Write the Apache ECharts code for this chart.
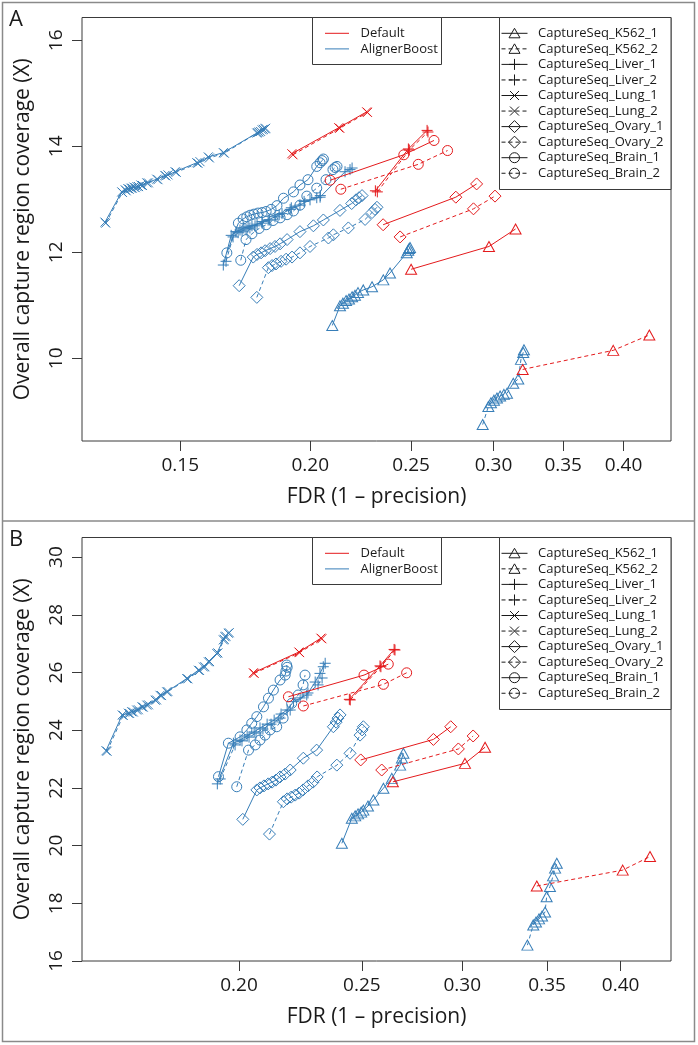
<!DOCTYPE html>
<html><head><meta charset="utf-8">
<script src="https://cdn.jsdelivr.net/npm/echarts@6/dist/echarts.min.js"></script>
<style>html,body{margin:0;padding:0;background:#fff}#c{width:698px;height:1045px}</style>
</head><body><div id="c"></div>
<script>
// ---------------- categories / ticks ----------------
const sampleNames = ['CaptureSeq_K562_1','CaptureSeq_K562_2','CaptureSeq_Liver_1','CaptureSeq_Liver_2','CaptureSeq_Lung_1','CaptureSeq_Lung_2','CaptureSeq_Ovary_1','CaptureSeq_Ovary_2','CaptureSeq_Brain_1','CaptureSeq_Brain_2'];
const sampleMarker = ['triangle','triangle','plus','plus','cross','cross','diamond','diamond','circle','circle'];
const methodNames = ['Default','AlignerBoost'];
const xTicksA = [0.15,0.20,0.25,0.30,0.35,0.40];
const xTicksB = [0.20,0.25,0.30,0.35,0.40];
const yTicksA = [10,12,14,16];
const yTicksB = [16,18,20,22,24,26,28,30];
const xRangeA = [0.1207,0.4443];
const xRangeB = [0.1504,0.4383];
const yRangeA = [8.44,16.43];
const yRangeB = [16.0,30.68];

// ---------------- Panel A: Default  [FDR, coverage] ----------------
const A_default_K562_1 = [[0.250,11.68],[0.297,12.11],[0.315,12.44]];
const A_default_K562_2 = [[0.320,9.79],[0.391,10.15],[0.4235,10.44]];
const A_default_Liver_1 = [[0.231,13.16],[0.2485,13.95],[0.259,14.30]];
const A_default_Liver_2 = [[0.232,13.14],[0.249,13.93],[0.2595,14.27]];
const A_default_Lung_1 = [[0.192,13.86],[0.213,14.35],[0.2266,14.65]];
const A_default_Lung_2 = [[0.1925,13.84],[0.2135,14.34],[0.227,14.64]];
const A_default_Ovary_1 = [[0.235,12.52],[0.276,13.04],[0.289,13.29]];
const A_default_Ovary_2 = [[0.244,12.29],[0.287,12.82],[0.301,13.06]];
const A_default_Brain_1 = [[0.209,13.36],[0.246,13.84],[0.263,14.11]];
const A_default_Brain_2 = [[0.214,13.19],[0.254,13.66],[0.271,13.92]];

// ---------------- Panel A: AlignerBoost ----------------
const A_boost_K562_1 = [[0.2100,10.62],[0.2136,10.99],[0.2150,11.04],[0.2165,11.09],[0.2179,11.12],[0.2194,11.16],[0.2208,11.19],[0.2223,11.24],[0.2249,11.29],[0.2293,11.35],[0.2351,11.48],[0.2386,11.61],[0.2476,11.99],[0.2484,12.04],[0.2489,12.07],[0.2494,12.09]];
const A_boost_K562_2 = [[0.2929,8.75],[0.2966,9.09],[0.2983,9.16],[0.3003,9.21],[0.3023,9.25],[0.3044,9.29],[0.3070,9.32],[0.3091,9.34],[0.3134,9.53],[0.3169,9.61],[0.3188,9.98],[0.3204,10.11],[0.3209,10.16]];
const A_boost_Liver_1 = [[0.1650,11.76],[0.1679,12.32],[0.1697,12.39],[0.1712,12.42],[0.1727,12.46],[0.1743,12.48],[0.1758,12.50],[0.1778,12.53],[0.1798,12.58],[0.1822,12.61],[0.1850,12.67],[0.1879,12.73],[0.1913,12.81],[0.1955,12.89],[0.1999,12.99],[0.2044,13.04],[0.2160,13.52],[0.2184,13.56],[0.2194,13.59]];
const A_boost_Liver_2 = [[0.1660,11.83],[0.1686,12.29],[0.1705,12.37],[0.1720,12.40],[0.1735,12.44],[0.1750,12.46],[0.1770,12.50],[0.1798,12.55],[0.1827,12.61],[0.1867,12.71],[0.1918,12.84],[0.1973,12.96],[0.2029,13.03],[0.2045,13.07]];
const A_boost_Lung_1 = [[0.1270,12.57],[0.1318,13.14],[0.1328,13.18],[0.1336,13.20],[0.1345,13.21],[0.1354,13.23],[0.1363,13.24],[0.1375,13.27],[0.1393,13.31],[0.1424,13.38],[0.1450,13.45],[0.1460,13.46],[0.1483,13.52],[0.1556,13.69],[0.1567,13.71],[0.1596,13.80],[0.1650,13.88],[0.1777,14.25],[0.1786,14.27],[0.1798,14.31],[0.1810,14.33]];
const A_boost_Lung_2 = [[0.1272,12.55],[0.1320,13.13],[0.1331,13.16],[0.1340,13.19],[0.1349,13.21],[0.1358,13.22],[0.1368,13.24],[0.1380,13.26],[0.1398,13.31],[0.1428,13.37],[0.1453,13.44],[0.1487,13.51],[0.1560,13.68],[0.1600,13.78],[0.1654,13.87],[0.1781,14.26],[0.1792,14.28],[0.1803,14.32],[0.1812,14.34]];
const A_boost_Ovary_1 = [[0.1709,11.37],[0.1763,11.91],[0.1778,11.96],[0.1794,11.99],[0.1810,12.03],[0.1830,12.07],[0.1850,12.11],[0.1871,12.16],[0.1900,12.24],[0.1955,12.39],[0.2014,12.50],[0.2059,12.61],[0.2136,12.79],[0.2192,12.92],[0.2213,12.99],[0.2228,13.03],[0.2243,13.07]];
const A_boost_Ovary_2 = [[0.1777,11.15],[0.1823,11.71],[0.1838,11.75],[0.1854,11.78],[0.1875,11.83],[0.1896,11.87],[0.1921,11.91],[0.1955,11.99],[0.1999,12.11],[0.2082,12.27],[0.2105,12.33],[0.2176,12.46],[0.2258,12.62],[0.2293,12.75],[0.2308,12.81],[0.2318,12.85]];
const A_boost_Brain_1 = [[0.1663,11.99],[0.1706,12.55],[0.1724,12.63],[0.1738,12.67],[0.1751,12.70],[0.1766,12.72],[0.1782,12.74],[0.1798,12.75],[0.1814,12.77],[0.1834,12.81],[0.1858,12.88],[0.1885,13.02],[0.1927,13.14],[0.1955,13.27],[0.1990,13.37],[0.2029,13.62],[0.2044,13.69],[0.2053,13.73],[0.2059,13.76]];
const A_boost_Brain_2 = [[0.1715,11.85],[0.1735,12.24],[0.1758,12.35],[0.1786,12.45],[0.1814,12.52],[0.1842,12.60],[0.1871,12.65],[0.1900,12.71],[0.1927,12.78],[0.1955,12.89],[0.1985,13.06],[0.2029,13.21],[0.2071,13.37],[0.2103,13.56],[0.2113,13.60],[0.2122,13.62]];

// ---------------- Panel B: Default ----------------
const B_default_K562_1 = [[0.2645,22.21],[0.3015,22.85],[0.3127,23.41]];
const B_default_K562_2 = [[0.3435,18.60],[0.4015,19.15],[0.4219,19.62]];
const B_default_Liver_1 = [[0.2444,25.07],[0.2584,26.23],[0.2651,26.80]];
const B_default_Liver_2 = [[0.2448,25.05],[0.2588,26.20],[0.2655,26.78]];
const B_default_Lung_1 = [[0.2053,25.99],[0.2230,26.71],[0.2321,27.19]];
const B_default_Lung_2 = [[0.2056,25.97],[0.2233,26.69],[0.2325,27.17]];
const B_default_Ovary_1 = [[0.2495,22.97],[0.2847,23.68],[0.2938,24.12]];
const B_default_Ovary_2 = [[0.2592,22.62],[0.2979,23.35],[0.3060,23.80]];
const B_default_Brain_1 = [[0.2188,25.16],[0.2510,25.91],[0.2623,26.29]];
const B_default_Brain_2 = [[0.2248,24.84],[0.2600,25.59],[0.2712,25.99]];

// ---------------- Panel B: AlignerBoost ----------------
const B_boost_K562_1 = [[0.2411,20.08],[0.2455,20.95],[0.2470,21.03],[0.2483,21.10],[0.2497,21.16],[0.2507,21.23],[0.2528,21.37],[0.2553,21.58],[0.2600,21.99],[0.2640,22.33],[0.2680,22.79],[0.2689,23.04],[0.2696,23.20]];
const B_boost_K562_2 = [[0.3377,16.55],[0.3413,17.25],[0.3430,17.35],[0.3449,17.46],[0.3468,17.56],[0.3487,17.70],[0.3497,18.23],[0.3518,18.58],[0.3538,18.95],[0.3551,19.22],[0.3562,19.39]];
const B_boost_Liver_1 = [[0.1923,22.14],[0.1980,23.55],[0.2004,23.66],[0.2030,23.80],[0.2056,23.94],[0.2078,24.08],[0.2105,24.21],[0.2132,24.35],[0.2159,24.56],[0.2183,24.70],[0.2208,24.99],[0.2262,25.22],[0.2297,25.67],[0.2317,25.97],[0.2331,26.20],[0.2339,26.32]];
const B_boost_Liver_2 = [[0.1933,22.31],[0.1986,23.49],[0.2011,23.63],[0.2037,23.76],[0.2063,23.90],[0.2089,24.04],[0.2120,24.21],[0.2155,24.42],[0.2195,24.70],[0.2235,25.12],[0.2267,25.29],[0.2309,25.57],[0.2326,25.81]];
const B_boost_Lung_1 = [[0.1571,23.29],[0.1618,24.53],[0.1636,24.59],[0.1646,24.64],[0.1661,24.70],[0.1677,24.81],[0.1692,24.87],[0.1718,25.04],[0.1733,25.21],[0.1754,25.33],[0.1819,25.79],[0.1858,26.08],[0.1875,26.19],[0.1892,26.37],[0.1921,26.66],[0.1944,27.13],[0.1950,27.24],[0.1962,27.36]];
const B_boost_Lung_2 = [[0.1574,23.27],[0.1621,24.51],[0.1640,24.58],[0.1651,24.63],[0.1666,24.71],[0.1681,24.80],[0.1697,24.88],[0.1722,25.05],[0.1738,25.20],[0.1758,25.34],[0.1823,25.78],[0.1862,26.07],[0.1880,26.20],[0.1896,26.38],[0.1925,26.68],[0.1947,27.15],[0.1953,27.26],[0.1965,27.38]];
const B_boost_Ovary_1 = [[0.2014,20.91],[0.2066,21.93],[0.2078,22.00],[0.2093,22.07],[0.2109,22.14],[0.2124,22.20],[0.2139,22.27],[0.2155,22.38],[0.2175,22.48],[0.2195,22.62],[0.2248,23.03],[0.2303,23.31],[0.2374,24.12],[0.2386,24.28],[0.2394,24.42],[0.2403,24.53]];
const B_boost_Ovary_2 = [[0.2114,20.40],[0.2168,21.52],[0.2183,21.62],[0.2199,21.68],[0.2215,21.75],[0.2231,21.82],[0.2247,21.93],[0.2267,22.07],[0.2288,22.20],[0.2305,22.38],[0.2389,22.79],[0.2447,23.20],[0.2492,23.83],[0.2501,24.01],[0.2507,24.12]];
const B_boost_Brain_1 = [[0.1927,22.39],[0.1962,23.55],[0.2004,23.77],[0.2029,24.01],[0.2047,24.24],[0.2066,24.47],[0.2091,24.81],[0.2110,25.11],[0.2129,25.39],[0.2155,25.74],[0.2175,25.91],[0.2178,26.05],[0.2183,26.18],[0.2181,26.26]];
const B_boost_Brain_2 = [[0.1992,22.04],[0.2035,23.31],[0.2060,23.49],[0.2078,23.66],[0.2097,23.83],[0.2116,24.01],[0.2142,24.12],[0.2167,24.42],[0.2201,24.93],[0.2227,25.22],[0.2247,25.57],[0.2255,25.91]];

// ---------------- assembly ----------------
const panelA_default = [A_default_K562_1,A_default_K562_2,A_default_Liver_1,A_default_Liver_2,A_default_Lung_1,A_default_Lung_2,A_default_Ovary_1,A_default_Ovary_2,A_default_Brain_1,A_default_Brain_2];
const panelA_boost = [A_boost_K562_1,A_boost_K562_2,A_boost_Liver_1,A_boost_Liver_2,A_boost_Lung_1,A_boost_Lung_2,A_boost_Ovary_1,A_boost_Ovary_2,A_boost_Brain_1,A_boost_Brain_2];
const panelB_default = [B_default_K562_1,B_default_K562_2,B_default_Liver_1,B_default_Liver_2,B_default_Lung_1,B_default_Lung_2,B_default_Ovary_1,B_default_Ovary_2,B_default_Brain_1,B_default_Brain_2];
const panelB_boost = [B_boost_K562_1,B_boost_K562_2,B_boost_Liver_1,B_boost_Liver_2,B_boost_Lung_1,B_boost_Lung_2,B_boost_Ovary_1,B_boost_Ovary_2,B_boost_Brain_1,B_boost_Brain_2];

const RED = '#e41a1c', BLUE = '#377eb8', INK = '#1a1a1a', FRAME = '#3a3a3a';
const FONT = '"Open Sans", "Noto Sans", sans-serif';
const SYM = {
  triangle: {symbol:'triangle', size:[11,10]},
  plus: {symbol:'path://M5,0L5,10M0,5L10,5', size:11},
  cross: {symbol:'path://M0,0L10,10M10,0L0,10', size:9},
  diamond: {symbol:'diamond', size:[12,12]},
  circle: {symbol:'circle', size:10}
};

function mkSeries(name, pts, color, dashed, mk, gi) {
  return {
    type:'line', name, xAxisIndex:gi, yAxisIndex:gi,
    data: pts.map(p => [Math.log(p[0]), p[1]]),
    symbol: SYM[mk].symbol, symbolSize: SYM[mk].size, showAllSymbol: true,
    itemStyle: {color:'rgba(0,0,0,0)', borderColor: color, borderWidth: 1},
    lineStyle: {color, width: 1, type: dashed ? [4,3] : 'solid'},
    emphasis: {disabled: true}, silent: true, z: color === RED ? 3 : 2
  };
}

const series = [];
[[panelA_boost, panelA_default, 0], [panelB_boost, panelB_default, 1]].forEach(([boost, def, gi]) => {
  sampleNames.forEach((s, i) => series.push(mkSeries('AlignerBoost ' + s, boost[i], BLUE, i % 2 === 1, sampleMarker[i], gi)));
  sampleNames.forEach((s, i) => series.push(mkSeries('Default ' + s, def[i], RED, i % 2 === 1, sampleMarker[i], gi)));
});

function xAxisFor(gi, ticks, range) {
  const tv = ticks.map(Math.log);
  return {
    type:'value', gridIndex: gi, min: Math.log(range[0]), max: Math.log(range[1]),
    axisLine:{show:false}, splitLine:{show:false},
    axisTick:{show:true, length:10, customValues: tv, lineStyle:{color:FRAME, width:1}},
    axisLabel:{customValues: tv, formatter: v => Math.exp(v).toFixed(2), margin:15, fontSize:19, color:INK, fontFamily:FONT},
    name:'FDR (1 \u2013 precision)', nameLocation:'middle', nameGap:46,
    nameTextStyle:{fontSize:21, color:INK, fontFamily:FONT}
  };
}
function yAxisFor(gi, ticks, range) {
  return {
    type:'value', gridIndex: gi, min: range[0], max: range[1],
    axisLine:{show:false}, splitLine:{show:false},
    axisTick:{show:true, length:10, customValues: ticks, lineStyle:{color:FRAME, width:1}},
    axisLabel:{customValues: ticks, rotate:90, margin:16, fontSize:19, color:INK, fontFamily:FONT},
    name:'Overall capture region coverage (X)', nameLocation:'middle', nameGap:48,
    nameTextStyle:{fontSize:21, color:INK, fontFamily:FONT}
  };
}

// ---------------- legends / frame (graphic) ----------------
function markerEl(mk, cx, cy, color) {
  const st = {fill:'none', stroke: color, lineWidth: 1};
  if (mk === 'triangle') return {type:'polygon', shape:{points:[[cx,cy-5],[cx+5.5,cy+4.5],[cx-5.5,cy+4.5]]}, style:st, z:101};
  if (mk === 'diamond') return {type:'polygon', shape:{points:[[cx,cy-6],[cx+6,cy],[cx,cy+6],[cx-6,cy]]}, style:st, z:101};
  if (mk === 'circle') return {type:'circle', shape:{cx, cy, r:5}, style:st, z:101};
  if (mk === 'plus') return {type:'group', children:[
    {type:'line', shape:{x1:cx-5.5,y1:cy,x2:cx+5.5,y2:cy}, style:st, z:101},
    {type:'line', shape:{x1:cx,y1:cy-5.5,x2:cx,y2:cy+5.5}, style:st, z:101}]};
  return {type:'group', children:[
    {type:'line', shape:{x1:cx-4.5,y1:cy-4.5,x2:cx+4.5,y2:cy+4.5}, style:st, z:101},
    {type:'line', shape:{x1:cx+4.5,y1:cy-4.5,x2:cx-4.5,y2:cy+4.5}, style:st, z:101}]};
}
function legendEls(oy) {
  const els = [];
  els.push({type:'rect', shape:{x:312.5, y:17.5+oy, width:129, height:47}, style:{fill:'#fff', stroke:FRAME, lineWidth:1}, z:100});
  methodNames.forEach((m, i) => {
    const y = 33.3 + 15.6 * i + oy;
    els.push({type:'line', shape:{x1:325, y1:y, x2:349, y2:y}, style:{stroke: i ? BLUE : RED, lineWidth:1}, z:101});
    els.push({type:'text', x:360.5, y:y, style:{text:m, fill:INK, font:'13px ' + FONT, verticalAlign:'middle', align:'left'}, z:101});
  });
  els.push({type:'rect', shape:{x:499.5, y:17.5+oy, width:171.5, height:172}, style:{fill:'#fff', stroke:FRAME, lineWidth:1}, z:100});
  sampleNames.forEach((s, i) => {
    const y = 33.3 + 15.55 * i + oy;
    els.push({type:'line', shape:{x1:501.5, y1:y, x2:527.5, y2:y}, style:{stroke:INK, lineWidth:1, lineDash: i % 2 ? [4,3] : null}, z:101});
    els.push(markerEl(sampleMarker[i], 514.5, y, INK));
    els.push({type:'text', x:538, y:y, style:{text:s, fill:INK, font:'13px ' + FONT, verticalAlign:'middle', align:'left'}, z:101});
  });
  return els;
}
const graphics = [
  {type:'rect', shape:{x:2.5, y:2.5, width:692, height:1039}, style:{fill:'none', stroke:'#8a8a8a', lineWidth:1.5}, z:100},
  {type:'line', shape:{x1:2.5, y1:521, x2:694.5, y2:521}, style:{stroke:'#8a8a8a', lineWidth:1.5}, z:100},
  {type:'text', x:9, y:9, style:{text:'A', fill:INK, font:'22px ' + FONT}, z:101},
  {type:'text', x:9, y:529, style:{text:'B', fill:INK, font:'22px ' + FONT}, z:101}
].concat(legendEls(0), legendEls(520));

const chart = echarts.init(document.getElementById('c'), null, {renderer:'canvas'});
chart.setOption({
  animation: false,
  backgroundColor: '#fff',
  grid: [
    {left:82, top:17.5, width:589, height:423.5, show:true, borderColor:FRAME, borderWidth:1, backgroundColor:'rgba(0,0,0,0)', containLabel:false, outerBoundsMode:'none'},
    {left:82, top:537.5, width:589, height:423.5, show:true, borderColor:FRAME, borderWidth:1, backgroundColor:'rgba(0,0,0,0)', containLabel:false, outerBoundsMode:'none'}
  ],
  xAxis: [xAxisFor(0, xTicksA, xRangeA), xAxisFor(1, xTicksB, xRangeB)],
  yAxis: [yAxisFor(0, yTicksA, yRangeA), yAxisFor(1, yTicksB, yRangeB)],
  graphic: {elements: graphics},
  series
});
</script></body></html>
